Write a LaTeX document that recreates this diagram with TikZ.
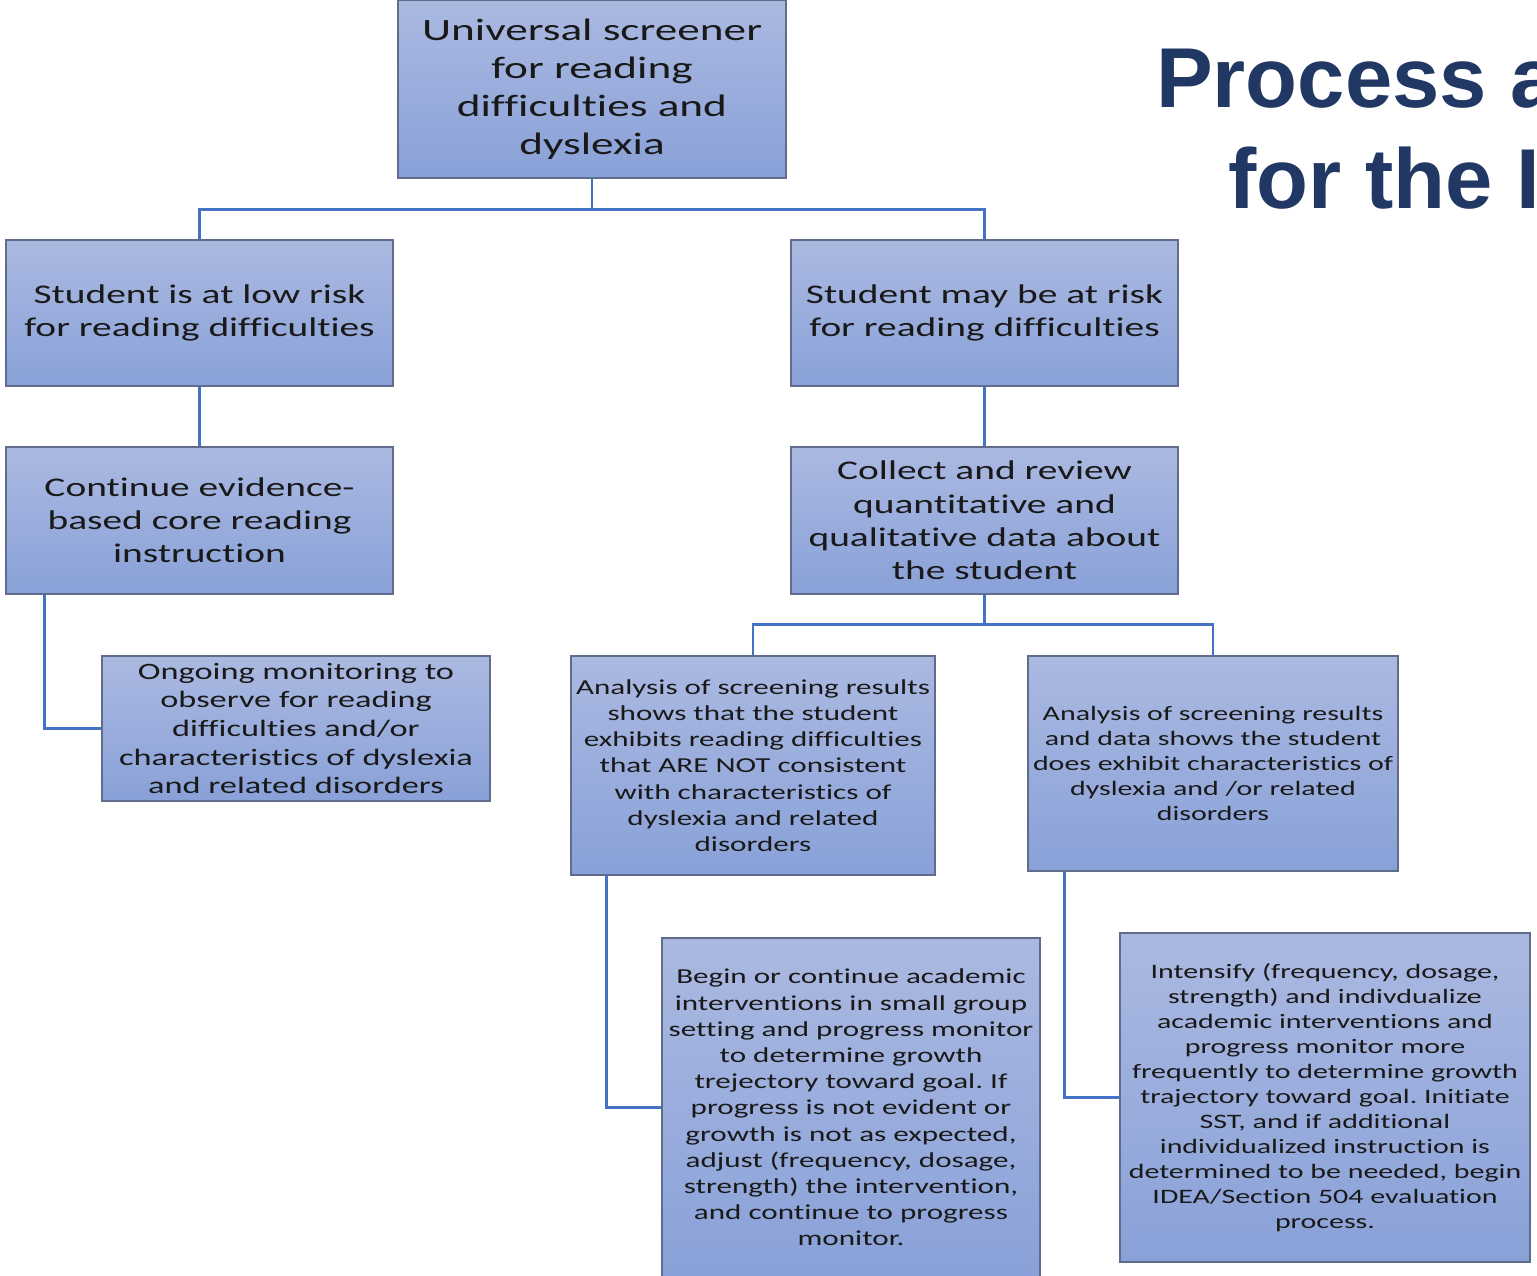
\documentclass[tikz,border=0pt]{standalone}
\usepackage{fontspec}
\setmainfont{Carlito}[FakeStretch=1.46,Ligatures=NoCommon]
\newfontfamily\titlefont{Liberation Sans}
\usetikzlibrary{shadings}
\frenchspacing
\definecolor{boxtop}{RGB}{171,185,225}
\definecolor{boxbot}{RGB}{137,161,216}
\definecolor{boxline}{RGB}{95,108,140}
\definecolor{conn}{RGB}{68,114,196}
\definecolor{titleblue}{RGB}{33,56,100}
\tikzset{
  box/.style={draw=boxline, line width=1.2pt, top color=boxtop, bottom color=boxbot,
    rectangle, align=center, inner sep=2pt, text=black!90},
  link/.style={draw=conn, line width=2.6pt},
  ttl/.style={anchor=base west, inner sep=0pt, text=titleblue,
    font=\titlefont\bfseries\fontsize{85}{100}\selectfont}
}
\begin{document}
\begin{tikzpicture}[x=1pt,y=-1pt]
\useasboundingbox (0,0) rectangle (1537,1275);
\fill[white] (0,0) rectangle (1537,1275);

% boxes
\node[box, minimum width=388, minimum height=178, font=\fontsize{31}{38}\selectfont]
  (top) at (592,89) {Universal screener\\for reading\\difficulties and\\dyslexia};
\node[box, minimum width=387, minimum height=146, font=\fontsize{27}{33}\selectfont]
  (low) at (199.5,313) {Student is at low risk\\for reading difficulties};
\node[box, minimum width=387, minimum height=146, font=\fontsize{27}{33}\selectfont]
  (may) at (984.5,313) {Student may be at risk\\for reading difficulties};
\node[box, minimum width=387, minimum height=147, font=\fontsize{27}{33}\selectfont]
  (cont) at (199.5,520.5) {Continue evidence-\\based core reading\\instruction};
\node[box, minimum width=387, minimum height=147, font=\fontsize{27}{33.3}\selectfont]
  (coll) at (984.5,520.5) {Collect and review\\quantitative and\\qualitative data about\\the student};
\node[box, minimum width=388, minimum height=145, font=\fontsize{23.5}{28.7}\selectfont]
  (ong) at (296,728.5) {Ongoing monitoring to\\observe for reading\\difficulties and/or\\characteristics of dyslexia\\and related disorders};
\node[box, minimum width=364, minimum height=219, font=\fontsize{21.3}{26.2}\selectfont]
  (an1) at (753,765.5) {Analysis of screening results\\shows that the student\\exhibits reading difficulties\\that ARE NOT consistent\\with characteristics of\\dyslexia and related\\disorders};
\node[box, minimum width=370, minimum height=215, font=\fontsize{20.5}{25}\selectfont]
  (an2) at (1213,763.5) {Analysis of screening results\\and data shows the student\\does exhibit characteristics of\\dyslexia and /or related\\disorders};
\node[box, minimum width=378, minimum height=339, font=\fontsize{21.3}{26.2}\selectfont]
  (beg) at (851,1107.5) {Begin or continue academic\\interventions in small group\\setting and progress monitor\\to determine growth\\trejectory toward goal. If\\progress is not evident or\\growth is not as expected,\\adjust (frequency, dosage,\\strength) the intervention,\\and continue to progress\\monitor.};
\node[box, minimum width=410, minimum height=329, font=\fontsize{20.5}{25}\selectfont]
  (int) at (1325,1097.5) {Intensify (frequency, dosage,\\strength) and indivdualize\\academic interventions and\\progress monitor more\\frequently to determine growth\\trajectory toward goal. Initiate\\SST, and if additional\\individualized instruction is\\determined to be needed, begin\\IDEA/Section 504 evaluation\\process.};

% connectors
\draw[link] (top.south) -- ++(0,31) -| (low.north);
\draw[link] (top.south) -- ++(0,31) -| (may.north);
\draw[link] (low.south) -- (cont.north);
\draw[link] (may.south) -- (coll.north);
\draw[link] ([xshift=39]cont.south west) |- (ong.west);
\draw[link] (coll.south) -- ++(0,30) -| (an1.north);
\draw[link] (coll.south) -- ++(0,30) -| (an2.north);
\draw[link] ([xshift=36]an1.south west) |- (beg.west);
\draw[link] ([xshift=37]an2.south west) |- (int.west);

% title (cut by the right edge)
\begin{scope}
\clip (0,0) rectangle (1537,1275);
\node[ttl] (t1) at (1156,107) {Process a};
\node[ttl] (t2) at (1228,208) {for the I};
\end{scope}
\end{tikzpicture}
\end{document}
